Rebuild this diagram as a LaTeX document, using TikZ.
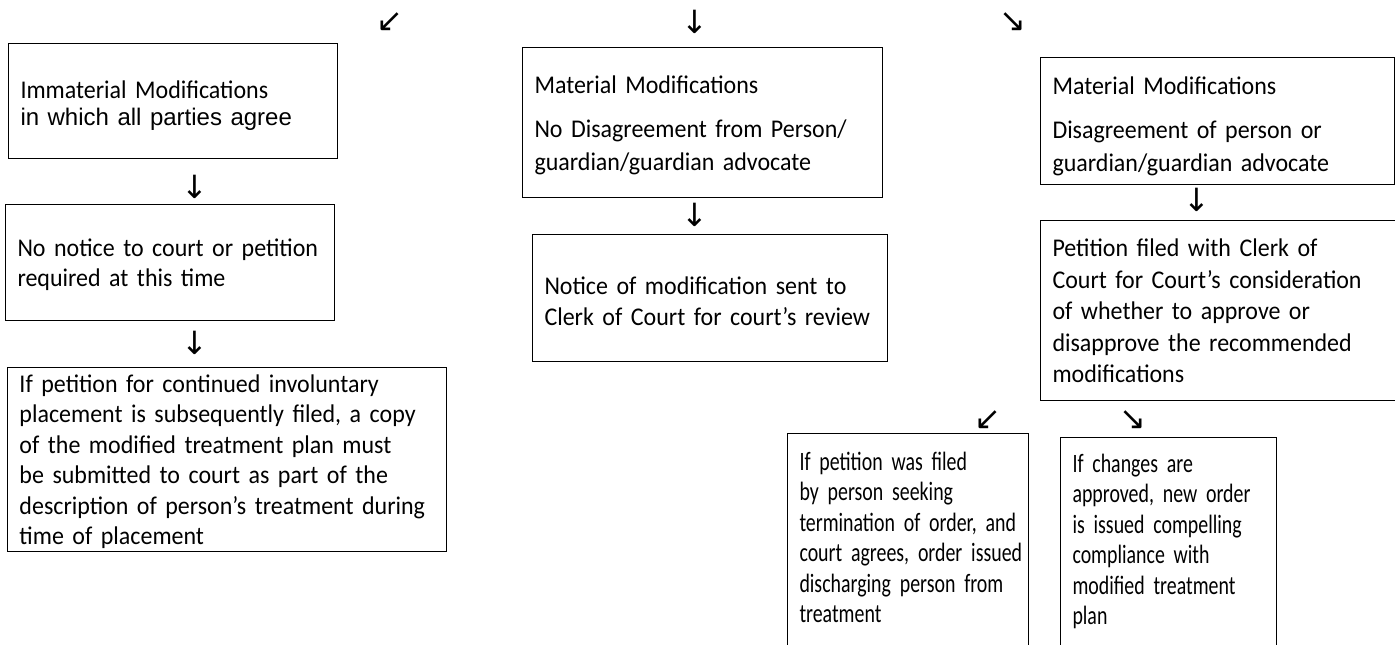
\documentclass[tikz,border=0pt]{standalone}
\usepackage{fontspec}
\setmainfont{Carlito}[FakeStretch=0.94]
\newfontfamily\narrowfont[FakeStretch=0.75]{Carlito}
\newfontfamily\arialfont{Liberation Sans}
\newfontfamily\arrowfont{DejaVu Sans}
\usetikzlibrary{positioning}
\newcommand{\boxtext}[2][0pt]{\raisebox{#1}[\height][\depth]{\begin{tabular}{@{}l@{}}#2\end{tabular}}}

\begin{document}
\begin{tikzpicture}
		[x=1pt,y=-1pt,
		box node/.style={draw,line width=1pt,anchor=north west,align=left,inner xsep=12pt,inner ysep=0pt,font=\fontsize{25.5}{30.5}\selectfont},
		narrow node/.style={box node,font=\narrowfont\fontsize{26.5}{30.5}\selectfont},
		arrow node/.style={draw=none,fill=none,inner sep=0pt,font=\arrowfont\fontsize{32}{32}\selectfont}]
		\useasboundingbox (0,0) rectangle (1395,645);
		\clip (0,0) rectangle (1395,645);
		
		% left branch
		\node[box node,minimum width=329,minimum height=115,text width=305] (1) at (8,43) {\boxtext[-5pt]{Immaterial Modifications\\[-3pt]{\arialfont\fontsize{24}{30.5}\selectfont in which all parties agree}}};
		\node[box node,minimum width=329,minimum height=116,text width=305] (2) at (5,204) {\boxtext[-3pt]{No notice to court or petition\\required at this time}};
		\node[box node,minimum width=439,minimum height=184,text width=415] (3) at (7,367) {\boxtext[-3pt]{If petition for continued involuntary\\placement is subsequently filed, a copy\\of the modified treatment plan must\\be submitted to court as part of the\\description of person's treatment during\\time of placement}};
		
		% middle branch
		\node[box node,minimum width=360,minimum height=150,text width=336,font=\fontsize{25.5}{33}\selectfont] (4) at (522,47) {\boxtext[-3pt]{Material Modifications\\[11pt]No Disagreement from Person/\\guardian/guardian advocate}};
		\node[box node,minimum width=355,minimum height=127,text width=331] (5) at (532,234) {\boxtext[-6pt]{Notice of modification sent to\\Clerk of Court for court's review}};
		
		% right branch
		\node[box node,minimum width=354,minimum height=127,text width=330,font=\fontsize{25.5}{33}\selectfont] (6) at (1040,57) {\boxtext[-5pt]{Material Modifications\\[11pt]Disagreement of person or\\guardian/guardian advocate}};
		\node[box node,minimum width=380,minimum height=180,text width=356,font=\fontsize{25.5}{31.5}\selectfont] (7) at (1040,220) {\boxtext[-3pt]{Petition filed with Clerk of\\Court for Court's consideration\\of whether to approve or\\disapprove the recommended\\modifications}};
		\node[narrow node,minimum width=241,minimum height=214,text width=217] (8) at (787,433) {\boxtext{If petition was filed\\by person seeking\\termination of order, and\\court agrees, order issued\\discharging person from\\treatment}};
		\node[narrow node,minimum width=216,minimum height=212,text width=192] (9) at (1060,437) {\boxtext[1pt]{If changes are\\approved, new order\\is issued compelling\\compliance with\\modified treatment\\plan}};
		
		% arrows
		\node[arrow node] (a1) at (390,22) {↙};
		\node[arrow node] (a2) at (195,187) {↓};
		\node[arrow node] (a3) at (195,343) {↓};
		\node[arrow node] (a4) at (695,22) {↓};
		\node[arrow node] (a5) at (695,215) {↓};
		\node[arrow node] (a6) at (1013,22) {↘};
		\node[arrow node] (a7) at (1197,200) {↓};
		\node[arrow node] (a8) at (988,420) {↙};
		\node[arrow node] (a9) at (1133,420) {↘};
		\end{tikzpicture}
\end{document}
